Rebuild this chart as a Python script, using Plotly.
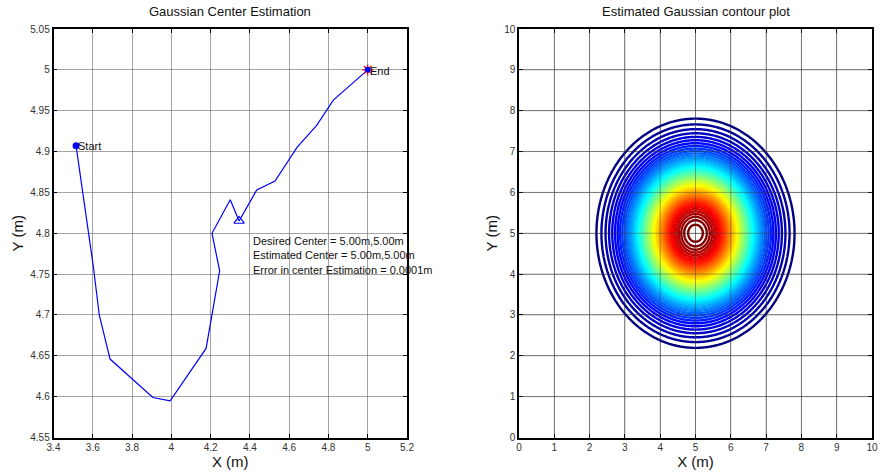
import numpy as np
import plotly.graph_objects as go

# ---------------- data ----------------
path_x = [3.515, 3.603, 3.633, 3.688, 3.906, 3.994, 4.177, 4.246, 4.207, 4.300,
          4.345, 4.435, 4.528, 4.640, 4.740, 4.825, 5.000]
path_y = [4.907, 4.759, 4.700, 4.646, 4.599, 4.595, 4.659, 4.754, 4.800, 4.841,
          4.815, 4.853, 4.864, 4.905, 4.932, 4.963, 5.000]
start_pt = (3.515, 4.907)
end_pt = (5.0, 5.0)
tri_pt = (4.345, 4.815)

info_lines = ["Desired Center = 5.00m,5.00m",
              "Estimated Center = 5.00m,5.00m",
              "Error in center Estimation = 0.0001m"]
info_pos = (4.405, 4.791)

left_xticks = [3.4, 3.6, 3.8, 4.0, 4.2, 4.4, 4.6, 4.8, 5.0, 5.2]
left_xlabels = ["3.4", "3.6", "3.8", "4", "4.2", "4.4", "4.6", "4.8", "5", "5.2"]
left_yticks = [4.55, 4.6, 4.65, 4.7, 4.75, 4.8, 4.85, 4.9, 4.95, 5.0, 5.05]
left_ylabels = ["4.55", "4.6", "4.65", "4.7", "4.75", "4.8", "4.85", "4.9", "4.95", "5", "5.05"]
right_ticks = list(range(0, 11))

gauss_center = (5.0, 5.0)
gauss_sigma = 1.2
level_start, level_end, level_step = 0.065, 0.985, 0.02

grid = np.linspace(0, 10, 301)
GX, GY = np.meshgrid(grid, grid)
Z = np.exp(-((GX - gauss_center[0]) ** 2 + (GY - gauss_center[1]) ** 2) / (2 * gauss_sigma ** 2))

jet = [[0.0, "rgb(0,0,128)"], [0.125, "rgb(0,0,255)"], [0.375, "rgb(0,255,255)"],
       [0.625, "rgb(255,255,0)"], [0.875, "rgb(255,0,0)"], [1.0, "rgb(128,0,0)"]]

FONT = "Liberation Sans, Arial, sans-serif"
W, H = 881, 476

def px_x(p):
    return p / W

def px_y(p):
    return 1 - p / H

fig = go.Figure()

# left plot
fig.add_trace(go.Scatter(x=path_x, y=path_y, mode="lines",
                         line=dict(color="#0000ff", width=1.2),
                         showlegend=False, xaxis="x", yaxis="y"))
fig.add_trace(go.Scatter(x=[tri_pt[0]], y=[tri_pt[1]], mode="markers",
                         marker=dict(symbol="triangle-up-open", size=9, color="#0000ff",
                                     line=dict(width=1.2, color="#0000ff")),
                         showlegend=False, xaxis="x", yaxis="y"))
fig.add_trace(go.Scatter(x=[start_pt[0]], y=[start_pt[1]], mode="markers",
                         marker=dict(symbol="circle", size=7, color="#0000ff"),
                         showlegend=False, xaxis="x", yaxis="y"))
fig.add_trace(go.Scatter(x=[end_pt[0]], y=[end_pt[1]], mode="markers",
                         marker=dict(symbol="asterisk-open", size=9, color="#ff0000",
                                     line=dict(width=1.2, color="#ff0000")),
                         showlegend=False, xaxis="x", yaxis="y"))
fig.add_trace(go.Scatter(x=[end_pt[0]], y=[end_pt[1]], mode="markers",
                         marker=dict(symbol="circle", size=6, color="#0000ff"),
                         showlegend=False, xaxis="x", yaxis="y"))

# right plot
fig.add_trace(go.Contour(x=grid, y=grid, z=Z, xaxis="x2", yaxis="y2",
                         contours=dict(start=level_start, end=level_end, size=level_step,
                                       coloring="lines"),
                         colorscale=jet, zmin=level_start, zmax=level_end,
                         line=dict(width=2.4, smoothing=1), showscale=False,
                         hoverinfo="skip"))

axis_common = dict(showline=True, linecolor="black", linewidth=1.5, mirror="ticks",
                   ticks="inside", ticklen=4, tickcolor="black", automargin=False,
                   showgrid=True, gridcolor="rgba(90,90,90,0.55)", gridwidth=1,
                   zeroline=False, tickfont=dict(family=FONT, size=10, color="#333"),
                   layer="above traces")

title_font = dict(family=FONT, size=15, color="#111")

# grid lines of the contour panel drawn over the contour lines (as in the reference)
shapes = []
for t in right_ticks[1:-1]:
    shapes.append(dict(type="line", xref="x2", yref="y2 domain", x0=t, x1=t, y0=0, y1=1,
                       line=dict(color="rgba(60,60,60,0.45)", width=1), layer="above"))
    shapes.append(dict(type="line", xref="x2 domain", yref="y2", x0=0, x1=1, y0=t, y1=t,
                       line=dict(color="rgba(60,60,60,0.45)", width=1), layer="above"))

label_font = dict(family=FONT, size=11, color="#111")

fig.update_layout(
    width=W, height=H, margin=dict(l=0, r=0, t=0, b=0),
    paper_bgcolor="white", plot_bgcolor="white",
    xaxis=dict(domain=[px_x(53.5), px_x(407)], range=[3.4, 5.2], tickvals=left_xticks,
               ticktext=left_xlabels, anchor="y",
               title=dict(text="X (m)", font=title_font, standoff=4), **axis_common),
    yaxis=dict(domain=[px_y(437.5), px_y(29)], range=[4.55, 5.05], tickvals=left_yticks,
               ticktext=left_ylabels, anchor="x",
               title=dict(text="Y (m)", font=title_font, standoff=3), **axis_common),
    xaxis2=dict(domain=[px_x(519), px_x(872)], range=[0, 10], tickvals=right_ticks,
                anchor="y2", title=dict(text="X (m)", font=title_font, standoff=4),
                **axis_common),
    yaxis2=dict(domain=[px_y(437.5), px_y(29)], range=[0, 10], tickvals=right_ticks,
                anchor="x2", title=dict(text="Y (m)", font=title_font, standoff=3),
                **axis_common),
    shapes=shapes,
    annotations=[
        dict(text="Gaussian Center Estimation", x=(px_x(53.5) + px_x(407)) / 2, y=px_y(11),
             xref="paper", yref="paper", showarrow=False,
             font=dict(family=FONT, size=13, color="#111"), xanchor="center", yanchor="middle"),
        dict(text="Estimated Gaussian contour plot", x=(px_x(519) + px_x(872)) / 2, y=px_y(11),
             xref="paper", yref="paper", showarrow=False,
             font=dict(family=FONT, size=13, color="#111"), xanchor="center", yanchor="middle"),
        dict(text="<br>".join(info_lines), x=info_pos[0], y=info_pos[1], xref="x", yref="y",
             showarrow=False, align="left", xanchor="left", yanchor="top", yshift=8,
             font=dict(family=FONT, size=11, color="#111")),
        dict(text="Start", x=start_pt[0], y=start_pt[1], xref="x", yref="y", showarrow=False,
             xanchor="left", yanchor="middle", xshift=0, font=label_font),
        dict(text="End", x=end_pt[0], y=end_pt[1], xref="x", yref="y", showarrow=False,
             xanchor="left", yanchor="middle", xshift=0, yshift=-1, font=label_font),
    ],
)

fig.write_html("out.html")
